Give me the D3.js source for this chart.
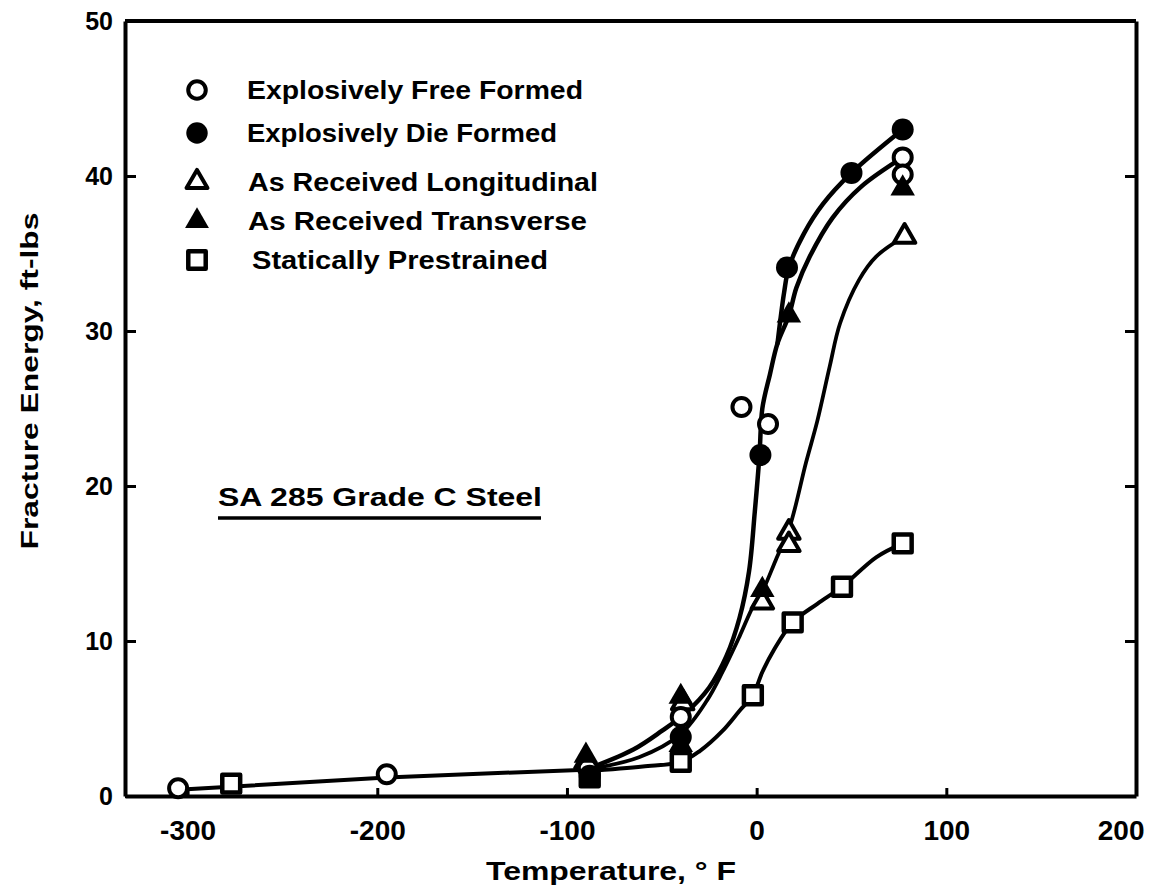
<!DOCTYPE html>
<html><head><meta charset="utf-8">
<script src="https://cdn.jsdelivr.net/npm/d3@7"></script>
<style>
body{margin:0;background:#fff}
text{font-family:"Liberation Sans",Arial,sans-serif;font-weight:bold;fill:#000}
</style>
</head><body><svg id="c" width="1154" height="890"></svg>
<script>
// ---- data ----
const xTicks = [-300, -200, -100, 0, 100, 200];
const yTicks = [0, 10, 20, 30, 40, 50];
const seriesNames = ["Explosively Free Formed", "Explosively Die Formed", "As Received Longitudinal", "As Received Transverse", "Statically Prestrained"];
// measured points [temperature °F, fracture energy ft-lbs]
const freeFormed   = [[-305,0.5],[-195,1.4],[-89,1.8],[-40,5.1],[-8,25.1],[6,24.0],[77,41.2],[77,40.1]];
const dieFormed    = [[-88,1.3],[-40,3.8],[2,22.0],[16,34.1],[50,40.2],[77,43.0]];
const longitudinal = [[-90,2.2],[-39,6.0],[3,12.5],[17,17.0],[17,16.2],[78,36.1]];
const transverse   = [[-90,2.6],[-40,6.4],[-40,3.3],[3,13.3],[17,31.0],[77,39.2]];
const prestrained  = [[-277,0.8],[-88,1.2],[-40,2.2],[-2,6.5],[19,11.2],[45,13.5],[77,16.3]];
// hand-drawn trend curves
const curveLow   = [[-305,0.4],[-195,1.2],[-90,1.7]];
const curveFree  = [[-90,1.7],[-65,3.0],[-50,4.2],[-37,5.4],[-25,7.0],[-16,9.0],[-9,11.5],[-4,14.5],[-1,18.3],[1.5,22],[3,25],[7,27.2],[11,29.2],[17,31],[21,32.8],[28,34.8],[40,37.3],[55,39.3],[77,41.2]];
const curveDie   = [[11,29.2],[14.5,32.5],[17,34.1],[25,36.3],[35,38.2],[50,40.2],[77,43.0]];
const curveLong  = [[-90,1.7],[-62,2.5],[-40,4.0],[-26,6.2],[-18,8.0],[-9,10.3],[-2,12.2],[3,13.2],[10,15.2],[17.5,17.4],[26,21.5],[32,24.2],[38.5,27.7],[44,30.5],[54,33.3],[63,34.8],[78,36.1]];
const curveStat  = [[-90,1.6],[-60,1.9],[-40,2.2],[-30,2.9],[-18,4.2],[-9,5.5],[-2,6.5],[3,8.0],[9,9.4],[19,11.2],[32,12.4],[45,13.5],[63,15.4],[77,16.3]];
const noteText = "SA 285 Grade C Steel";
const xTitle = "Temperature, \u00B0 F";
const yTitle = "Fracture Energy, ft-lbs";

// ---- chart ----
const svg = d3.select("#c");
const x = d3.scaleLinear().domain([-333, 200]).range([125, 1136]);
const y = d3.scaleLinear().domain([0, 50]).range([796, 21]);
const [x0, x1] = x.range(), [y0, y1] = y.range();

// frame top
svg.append("line").attr("x1", x0).attr("x2", x1).attr("y1", y1).attr("y2", y1).attr("stroke","#000").attr("stroke-width",4);

const gx = svg.append("g").attr("transform", `translate(0,${y0})`)
  .call(d3.axisBottom(x).tickValues(xTicks).tickSize(-8).tickSizeOuter(0).tickPadding(24)
    .tickFormat(d => d < 0 ? "-" + Math.abs(d) : String(d)));
gx.select(".domain").attr("stroke-width", 4);
gx.selectAll(".tick line").attr("stroke-width", 3);
gx.selectAll(".tick text").attr("font-size", 28).attr("font-family", null)
  .filter(d => d === 200).attr("text-anchor", "end").attr("dx", 8);

const gy = svg.append("g").attr("transform", `translate(${x0},0)`)
  .call(d3.axisLeft(y).tickValues(yTicks).tickSize(-11).tickSizeOuter(0).tickPadding(12));
gy.select(".domain").attr("stroke-width", 4);
gy.selectAll(".tick line").attr("stroke-width", 3);
gy.selectAll(".tick text").attr("font-size", 25).attr("font-family", null);

const gr = svg.append("g").attr("transform", `translate(${x1},0)`)
  .call(d3.axisRight(y).tickValues(yTicks.filter(v => v > 0 && v < 50)).tickSize(-11).tickSizeOuter(0).tickFormat(""));
gr.select(".domain").attr("stroke-width", 4);
gr.selectAll(".tick line").attr("stroke-width", 3);

// curves
const line = d3.line().x(d => x(d[0])).y(d => y(d[1]));
const smooth = d3.line().x(d => x(d[0])).y(d => y(d[1])).curve(d3.curveCatmullRom.alpha(0.5));
svg.append("path").attr("d", line(curveLow)).attr("fill","none").attr("stroke","#000").attr("stroke-width",4);
[[curveFree,4.5],[curveDie,4.5],[curveLong,3.8],[curveStat,4]].forEach(([c,w]) =>
  svg.append("path").attr("d", smooth(c)).attr("fill","none").attr("stroke","#000").attr("stroke-width",w).attr("stroke-linecap","round"));

// markers
const styles = [
  {type: d3.symbolCircle,   size: 255, fill: "#fff", sw: 4},
  {type: d3.symbolCircle,   size: 380, fill: "#000", sw: 0},
  {type: d3.symbolTriangle, size: 200, fill: "#fff", sw: 4},
  {type: d3.symbolTriangle, size: 260, fill: "#000", sw: 0},
  {type: d3.symbolSquare,   size: 320, fill: "#fff", sw: 4.5}
];
const allSeries = [freeFormed, dieFormed, longitudinal, transverse, prestrained];
const drawOrder = [4, 2, 0, 3, 1];
drawOrder.forEach(i => {
  const st = styles[i];
  svg.append("g").selectAll("path").data(allSeries[i]).join("path")
    .attr("transform", d => `translate(${x(d[0])},${y(d[1])})`)
    .attr("d", d3.symbol().type(st.type).size(st.size))
    .attr("fill", st.fill).attr("stroke", "#000").attr("stroke-width", st.sw).attr("stroke-linejoin","round");
});

// legend
const legRows = [90, 133, 182, 221, 260];
const legX = [247, 247, 248, 248, 252];
const legW = [336, 310, 350, 339, 296];
const leg = svg.append("g");
seriesNames.forEach((name, i) => {
  const st = styles[i];
  leg.append("path").attr("transform", `translate(197,${legRows[i]})`)
    .attr("d", d3.symbol().type(st.type).size(st.size * 0.95))
    .attr("fill", st.fill).attr("stroke", "#000").attr("stroke-width", st.sw).attr("stroke-linejoin","round");
  leg.append("text").attr("x", legX[i]).attr("y", legRows[i] + 9).attr("font-size", 25)
    .attr("textLength", legW[i]).attr("lengthAdjust", "spacingAndGlyphs").text(name);
});

// note
svg.append("text").attr("x", 218).attr("y", 506).attr("font-size", 26)
  .attr("textLength", 324).attr("lengthAdjust", "spacingAndGlyphs").text(noteText);
svg.append("line").attr("x1", 218).attr("x2", 541).attr("y1", 518).attr("y2", 518).attr("stroke", "#000").attr("stroke-width", 3.5);

// axis titles
svg.append("text").attr("x", 611).attr("y", 880).attr("text-anchor", "middle").attr("font-size", 26)
  .attr("textLength", 250).attr("lengthAdjust", "spacingAndGlyphs").text(xTitle);
svg.append("text").attr("transform", "translate(38,381) rotate(-90)").attr("text-anchor", "middle").attr("font-size", 24)
  .attr("textLength", 337).attr("lengthAdjust", "spacingAndGlyphs").text(yTitle);
</script>
</body></html>
